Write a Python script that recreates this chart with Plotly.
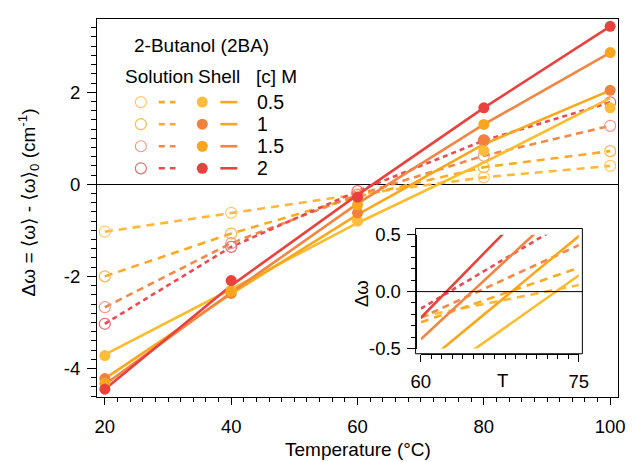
import plotly.graph_objects as go

# ---------------- data ----------------
temperature = [20, 40, 60, 80, 100]
conc_labels = ["0.5", "1", "1.5", "2"]

# Solution (open circles, dashed lines)
sol_05 = [-1.03, -0.62, -0.22, 0.15, 0.40]
sol_10 = [-2.00, -1.07, -0.27, 0.37, 0.72]
sol_15 = [-2.67, -1.28, -0.23, 0.62, 1.27]
sol_20 = [-3.03, -1.36, -0.15, 0.95, 1.78]

# Shell (filled circles)
shell_pts_05 = [-3.72, -2.30, -0.80, 0.73, 1.66]
shell_pts_10 = [-4.22, -2.37, -0.62, 0.97, 2.04]
shell_pts_15 = [-4.32, -2.33, -0.45, 1.30, 2.86]
shell_pts_20 = [-4.45, -2.09, -0.28, 1.66, 3.43]

# Shell (solid lines)
shell_line_05 = [-3.70, -2.28, -0.84, 0.47, 1.87]
shell_line_10 = [-4.22, -2.38, -0.66, 0.87, 2.04]
shell_line_15 = [-4.35, -2.35, -0.42, 1.30, 2.86]
shell_line_20 = [-4.45, -2.20, -0.23, 1.66, 3.43]

sol_series = [sol_05, sol_10, sol_15, sol_20]
shell_pts = [shell_pts_05, shell_pts_10, shell_pts_15, shell_pts_20]
shell_lines = [shell_line_05, shell_line_10, shell_line_15, shell_line_20]

# ---------------- styles ----------------
sol_line_colors = ["#FDB93A", "#FBAA24", "#F2884A", "#EC4A50"]
sol_marker_colors = ["#FFC96A", "#FDB84A", "#F4988A", "#EF6A72"]
shell_line_colors = ["#FDBB2E", "#FAA71C", "#F38542", "#E8423F"]
shell_marker_colors = ["#FDBC3A", "#F2813D", "#FAA51E", "#E8413E"]
dash_styles = ["8px,6px", "8px,6px", "7px,5px", "5px,4px"]

FONT = "Liberation Sans, Arial, Helvetica, sans-serif"

fig = go.Figure()

# ---------------- main plot ----------------
for i in range(4):
    fig.add_trace(go.Scatter(
        x=temperature, y=sol_series[i], mode="lines",
        line=dict(color=sol_line_colors[i], width=2.6, dash=dash_styles[i]),
        xaxis="x", yaxis="y", hoverinfo="skip"))
for i in range(4):
    fig.add_trace(go.Scatter(
        x=temperature, y=sol_series[i], mode="markers",
        marker=dict(symbol="circle-open", size=11, color=sol_marker_colors[i],
                    line=dict(width=1.2, color=sol_marker_colors[i])),
        xaxis="x", yaxis="y", hoverinfo="skip"))
for i in range(4):
    fig.add_trace(go.Scatter(
        x=temperature, y=shell_lines[i], mode="lines",
        line=dict(color=shell_line_colors[i], width=2.6),
        xaxis="x", yaxis="y", hoverinfo="skip"))
for i in range(4):
    fig.add_trace(go.Scatter(
        x=temperature, y=shell_pts[i], mode="markers",
        marker=dict(symbol="circle", size=11, color=shell_marker_colors[i]),
        xaxis="x", yaxis="y", hoverinfo="skip"))

# ---------------- inset (T >= 60) ----------------
for i in range(4):
    fig.add_trace(go.Scatter(
        x=temperature[2:], y=sol_series[i][2:], mode="lines",
        line=dict(color=sol_line_colors[i], width=2.6, dash=dash_styles[i]),
        xaxis="x2", yaxis="y2", hoverinfo="skip"))
for i in range(4):
    fig.add_trace(go.Scatter(
        x=temperature[2:], y=shell_lines[i][2:], mode="lines",
        line=dict(color=shell_line_colors[i], width=2.6),
        xaxis="x2", yaxis="y2", hoverinfo="skip"))

# ---------------- legend block (overlay axis in pixel units) ----------------
row_y = [99, 121.3, 143.6, 165.9]
for i in range(4):
    fig.add_trace(go.Scatter(
        x=[141.7], y=[row_y[i]], mode="markers",
        marker=dict(symbol="circle-open", size=11, color=sol_marker_colors[i],
                    line=dict(width=1.2, color=sol_marker_colors[i])),
        xaxis="x3", yaxis="y3", hoverinfo="skip"))
    fig.add_trace(go.Scatter(
        x=[160, 177], y=[row_y[i], row_y[i]], mode="lines",
        line=dict(color=sol_line_colors[i] if i > 0 else sol_line_colors[1], width=2.6, dash="6px,5px"),
        xaxis="x3", yaxis="y3", hoverinfo="skip"))
    fig.add_trace(go.Scatter(
        x=[204.3], y=[row_y[i]], mode="markers",
        marker=dict(symbol="circle", size=11, color=shell_marker_colors[i]),
        xaxis="x3", yaxis="y3", hoverinfo="skip"))
    fig.add_trace(go.Scatter(
        x=[222.7, 240], y=[row_y[i], row_y[i]], mode="lines",
        line=dict(color=shell_line_colors[i] if i > 0 else shell_line_colors[1], width=2.6),
        xaxis="x3", yaxis="y3", hoverinfo="skip"))

annotations = []
for i in range(4):
    annotations.append(dict(x=258, y=row_y[i], xref="x3", yref="y3", text=conc_labels[i],
                            showarrow=False, xanchor="left", yanchor="middle",
                            font=dict(size=19.5, family=FONT, color="black")))
annotations += [
    dict(x=133, y=42, xref="x3", yref="y3", text="2-Butanol (2BA)", showarrow=False,
         xanchor="left", yanchor="middle", font=dict(size=19, family=FONT, color="black")),
    dict(x=123, y=73, xref="x3", yref="y3", text="Solution", showarrow=False,
         xanchor="left", yanchor="middle", font=dict(size=19, family=FONT, color="black")),
    dict(x=198, y=73, xref="x3", yref="y3", text="Shell", showarrow=False,
         xanchor="left", yanchor="middle", font=dict(size=19, family=FONT, color="black")),
    dict(x=257, y=73, xref="x3", yref="y3", text="[c] M", showarrow=False,
         xanchor="left", yanchor="middle", font=dict(size=19, family=FONT, color="black")),
    # axis titles
    dict(x=0.501, y=-0.139, xref="paper", yref="paper", text="Temperature (°C)",
         showarrow=False, xanchor="center", yanchor="middle",
         font=dict(size=19, family=FONT, color="black")),
    dict(x=-0.1318, y=0.5157, xref="paper", yref="paper",
         text="Δω = ⟨ω⟩ - ⟨ω⟩<sub>0</sub> (cm<sup>-1</sup>)", textangle=-90,
         showarrow=False, xanchor="center", yanchor="middle",
         font=dict(size=19, family="Liberation Sans, DejaVu Sans, sans-serif", color="black")),
    # inset axis titles
    dict(x=0.7778, y=0.0445, xref="paper", yref="paper", text="T", showarrow=False,
         xanchor="center", yanchor="middle", font=dict(size=18.5, family=FONT, color="black")),
    dict(x=0.5066, y=0.275, xref="paper", yref="paper", text="Δω", textangle=-90,
         showarrow=False, xanchor="center", yanchor="middle",
         font=dict(size=18.5, family=FONT, color="black")),
]

shapes = [
    dict(type="rect", xref="paper", yref="paper", x0=0.6115, x1=0.9316, y0=0.1144, y1=0.4458,
         line=dict(color="black", width=1), fillcolor="rgba(0,0,0,0)"),
    dict(type="line", xref="paper", yref="y2", x0=0.6115, x1=0.9316, y0=0, y1=0,
         line=dict(color="black", width=1)),
]

tickfont = dict(size=18.5, family=FONT, color="black")

fig.update_layout(
    width=636, height=462,
    margin=dict(l=97, r=8, t=15, b=65),
    plot_bgcolor="white", paper_bgcolor="white",
    showlegend=False,
    font=dict(family=FONT, size=18.5, color="black"),
    annotations=annotations, shapes=shapes,
    xaxis=dict(range=[18.76, 101.24], tickmode="linear", tick0=20, dtick=20,
               ticks="outside", ticklen=7, tickwidth=1, tickcolor="black",
               showline=True, linecolor="black", linewidth=1, mirror=True,
               showgrid=False, zeroline=False, tickfont=tickfont, ticklabelstandoff=6,
               minor=dict(tickmode="linear", tick0=20, dtick=2, ticks="outside",
                          ticklen=4, tickwidth=1, tickcolor="black", showgrid=False)),
    yaxis=dict(range=[-4.62, 3.59], tickmode="array", tickvals=[-4, -2, 0, 2],
               ticktext=["-4", "-2", "0", "2"],
               ticks="outside", ticklen=9, tickwidth=1, tickcolor="black",
               showline=True, linecolor="black", linewidth=1, mirror=True,
               showgrid=False, zeroline=True, zerolinecolor="black", zerolinewidth=1.2,
               tickfont=tickfont, ticklabelstandoff=3,
               minor=dict(tickmode="linear", tick0=0, dtick=0.2, ticks="outside",
                          ticklen=5, tickwidth=1, tickcolor="black", showgrid=False)),
    xaxis2=dict(domain=[0.6215, 0.9247], anchor="free", position=0.1144,
                range=[60, 75], tickmode="array", tickvals=[60, 75], ticktext=["60", "75"],
                ticks="outside", ticklen=7, tickwidth=1, tickcolor="black",
                showline=True, linecolor="black", linewidth=1, mirror=False,
                showgrid=False, zeroline=False, tickfont=tickfont, ticklabelstandoff=4,
                minor=dict(tickmode="linear", tick0=60, dtick=1, ticks="outside",
                           ticklen=4, tickwidth=1, tickcolor="black", showgrid=False)),
    yaxis2=dict(domain=[0.1283, 0.4293], anchor="free", position=0.6115,
                range=[-0.5, 0.5], tickmode="array", tickvals=[-0.5, 0, 0.5],
                ticktext=["-0.5", "0.0", "0.5"],
                ticks="outside", ticklen=9, tickwidth=1, tickcolor="black",
                showline=True, linecolor="black", linewidth=1, mirror=False,
                showgrid=False, zeroline=False, tickfont=tickfont, ticklabelstandoff=2,
                minor=dict(tickmode="linear", tick0=0, dtick=0.1, ticks="outside",
                           ticklen=5, tickwidth=1, tickcolor="black", showgrid=False)),
    xaxis3=dict(overlaying="x", range=[97, 628], visible=False, anchor="y3"),
    yaxis3=dict(overlaying="y", range=[397, 15], visible=False, anchor="x3"),
)

fig.write_html("out.html", config={"displayModeBar": False},
               post_script="document.body.style.margin='0';document.body.style.overflow='hidden';")
